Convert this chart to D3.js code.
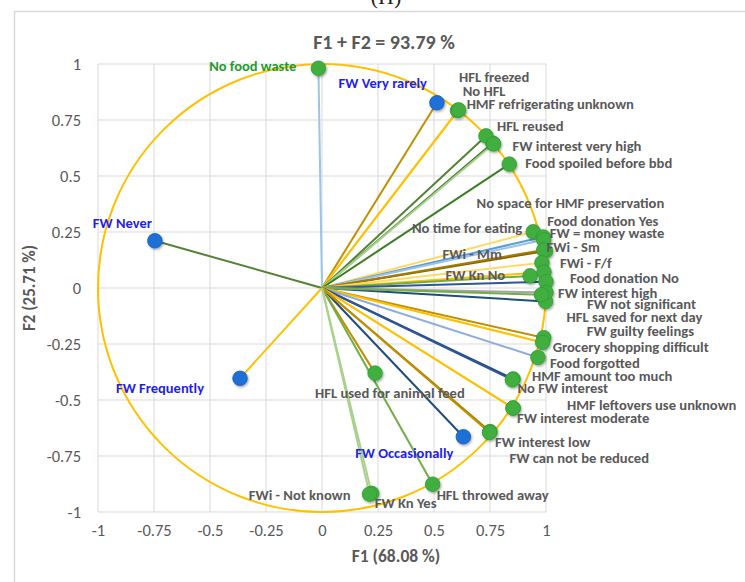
<!DOCTYPE html>
<html>
<head>
<meta charset="utf-8">
<script src="https://cdn.jsdelivr.net/npm/d3@7"></script>
<style>
  html, body { margin: 0; padding: 0; background: #fff; }
  svg { display: block; }
  text { font-family: Carlito, Calibri, Lato, "Open Sans", sans-serif; }
</style>
</head>
<body>
<svg id="chart" width="745" height="582"></svg>
<script>
// Correlation circle (PCA, F1 x F2) – active variables and supplementary modalities

const variableNames = [
  "No food waste", "HFL freezed", "No HFL", "HMF refrigerating unknown", "HFL reused",
  "FW interest very high", "Food spoiled before bbd", "No time for eating",
  "No space for HMF preservation", "Food donation Yes", "FW = money waste", "FWi - Sm",
  "FWi - Mm", "FWi - F/f", "Food donation No", "FW Kn No", "FW interest high",
  "FW not significant", "HFL saved for next day", "FW guilty feelings",
  "Grocery shopping difficult", "Food forgotted", "HMF amount too much", "No FW interest",
  "HMF leftovers use unknown", "FW interest moderate", "FW interest low",
  "FW can not be reduced", "HFL used for animal feed", "HFL throwed away", "FW Kn Yes",
  "FWi - Not known"
];
const variableF1 = [
  -0.016, 0.605, 0.762, 0.610, 0.732,
  0.766, 0.836, 0.943,
  0.998, 0.988, 0.990, 0.998,
  0.990, 0.982, 0.991, 0.929, 1.000,
  1.000, 0.980, 0.990,
  0.985, 0.964, 0.853, 0.850,
  0.853, 0.853, 0.750,
  0.748, 0.237, 0.494, 0.222,
  0.212
];
const variableF2 = [
  0.981, 0.792, 0.647, 0.795, 0.679,
  0.643, 0.553, 0.251,
  -0.060, 0.228, 0.215, 0.165,
  0.170, 0.113, 0.071, 0.054, 0.028,
  -0.020, -0.030, -0.222,
  -0.243, -0.310, -0.406, -0.410,
  -0.536, -0.536, -0.641,
  -0.645, -0.380, -0.876, -0.917,
  -0.920
];

const supplementaryNames = ["FW Very rarely", "FW Never", "FW Frequently", "FW Occasionally"];
const supplementaryF1 = [0.513, -0.746, -0.366, 0.631];
const supplementaryF2 = [0.827, 0.211, -0.403, -0.664];

const axisTicks = [-1, -0.75, -0.5, -0.25, 0, 0.25, 0.5, 0.75, 1];
const chartTitle = "F1 + F2 = 93.79 %";
const xTitle = "F1 (68.08 %)";
const yTitle = "F2 (25.71 %)";
const panelTag = "(H)";

// ---- styling / layout ----
const vectorColors = {
  "No food waste": "#9DC3E6", "HFL freezed": "#FFD966", "No HFL": "#3B7D23",
  "HMF refrigerating unknown": "#FFC000", "HFL reused": "#548235",
  "FW interest very high": "#A9D18E", "Food spoiled before bbd": "#3B7D23",
  "No time for eating": "#FFD966", "No space for HMF preservation": "#1F4E79",
  "Food donation Yes": "#5B9BD5", "FW = money waste": "#9DC3E6", "FWi - Sm": "#806000",
  "FWi - Mm": "#A57C00", "FWi - F/f": "#FFD966", "Food donation No": "#FFC000",
  "FW Kn No": "#70AD47", "FW interest high": "#2F5597", "FW not significant": "#A5A5A5",
  "HFL saved for next day": "#70AD47", "FW guilty feelings": "#BF9000",
  "Grocery shopping difficult": "#FFC000", "Food forgotted": "#8FAADC",
  "HMF amount too much": "#1F4E79", "No FW interest": "#2F5597",
  "HMF leftovers use unknown": "#FFC000", "FW interest moderate": "#FFC000",
  "FW interest low": "#A57C00", "FW can not be reduced": "#BF9000",
  "HFL used for animal feed": "#BF9000", "HFL throwed away": "#70AD47",
  "FW Kn Yes": "#A9D18E", "FWi - Not known": "#A9D18E",
  "FW Very rarely": "#BF9000", "FW Never": "#548235",
  "FW Frequently": "#FFC000", "FW Occasionally": "#1F4E79"
};

// label nudges in pixels from the marker: [dx, dy, anchor]
const labelNudge = {
  "No food waste": [-22, -2, "end"], "HFL freezed": [1.5, -34, "start"],
  "No HFL": [-30, -52, "start"], "HMF refrigerating unknown": [8, -6, "start"],
  "HFL reused": [11, -10, "start"], "FW interest very high": [19, 2, "start"],
  "Food spoiled before bbd": [16, -1, "start"], "No time for eating": [-11, -4, "end"],
  "No space for HMF preservation": [-69, -98, "start"], "Food donation Yes": [4, -16, "start"],
  "FW = money waste": [6, -7, "start"], "FWi - Sm": [1, -4, "start"],
  "FWi - Mm": [-42, 4, "end"], "FWi - F/f": [18, 0, "start"],
  "Food donation No": [26, 6, "start"], "FW Kn No": [-25, -1, "end"],
  "FW interest high": [12, 11, "start"], "FW not significant": [41, 12, "start"],
  "HFL saved for next day": [25, 22, "start"], "FW guilty feelings": [43, -7, "start"],
  "Grocery shopping difficult": [10, 5, "start"], "Food forgotted": [12, 6, "start"],
  "HMF amount too much": [19, -3, "start"], "No FW interest": [5, 8, "start"],
  "HMF leftovers use unknown": [54, -3, "start"], "FW interest moderate": [4, 10, "start"],
  "FW interest low": [5, 10, "start"], "FW can not be reduced": [20, 26, "start"],
  "HFL used for animal feed": [-60, 20, "start"], "HFL throwed away": [4, 11, "start"],
  "FW Kn Yes": [3, 10, "start"], "FWi - Not known": [-19, 1, "end"],
  "FW Very rarely": [-10, -20, "end"], "FW Never": [-3, -18, "end"],
  "FW Frequently": [-36, 10, "end"], "FW Occasionally": [-10, 16, "end"]
};

const svg = d3.select("#chart");

const x = d3.scaleLinear().domain([-1, 1]).range([98, 546]);
const y = d3.scaleLinear().domain([-1, 1]).range([512, 64]);

const defs = svg.append("defs");
const shadow = defs.append("filter").attr("id", "mshadow")
  .attr("x", "-50%").attr("y", "-50%").attr("width", "200%").attr("height", "200%");
shadow.append("feDropShadow").attr("dx", 1).attr("dy", 1.5)
  .attr("stdDeviation", 1).attr("flood-color", "#000").attr("flood-opacity", 0.35);

// chart frame
svg.append("path")
  .attr("d", "M14.5,582 L14.5,11.5 L745,11.5")
  .attr("fill", "none").attr("stroke", "#D9D9D9").attr("stroke-width", 1.5);

svg.append("text").text(panelTag)
  .attr("x", 386).attr("y", 4).attr("text-anchor", "middle")
  .style("font-family", "'Liberation Serif', 'DejaVu Serif', serif")
  .attr("font-size", 22).attr("fill", "#222");

// grid
const grid = svg.append("g");
grid.selectAll("line.v").data(axisTicks).join("line")
  .attr("x1", d => x(d)).attr("x2", d => x(d))
  .attr("y1", y(1)).attr("y2", y(-1))
  .attr("stroke", "#D9D9D9").attr("stroke-width", 1);
grid.selectAll("line.h").data(axisTicks).join("line")
  .attr("y1", d => y(d)).attr("y2", d => y(d))
  .attr("x1", x(-1)).attr("x2", x(1))
  .attr("stroke", "#D9D9D9").attr("stroke-width", 1);

// axes (tick labels only), plain hyphen for negatives
const fmt = d => String(d);
const xAxis = svg.append("g").attr("transform", `translate(0,${y(-1) + 8})`)
  .call(d3.axisBottom(x).tickValues(axisTicks).tickFormat(fmt).tickSize(0).tickPadding(4));
const yAxis = svg.append("g").attr("transform", `translate(${x(-1) - 17},0)`)
  .call(d3.axisLeft(y).tickValues(axisTicks).tickFormat(fmt).tickSize(0).tickPadding(0));
[xAxis, yAxis].forEach(a => {
  a.select(".domain").remove();
  a.selectAll("text").attr("fill", "#595959").attr("font-size", 16.5)
    .style("font-family", "Carlito, Calibri, Lato, sans-serif");
});

// unit circle
svg.append("ellipse")
  .attr("cx", x(0)).attr("cy", y(0))
  .attr("rx", x(1) - x(0)).attr("ry", y(0) - y(1))
  .attr("fill", "none").attr("stroke", "#FFC000").attr("stroke-width", 2);

const active = variableNames.map((n, i) => ({ name: n, f1: variableF1[i], f2: variableF2[i], sup: false }));
const supp = supplementaryNames.map((n, i) => ({ name: n, f1: supplementaryF1[i], f2: supplementaryF2[i], sup: true }));
const all = supp.concat(active);

// vectors from origin
svg.append("g").selectAll("line").data(all).join("line")
  .attr("x1", x(0)).attr("y1", y(0))
  .attr("x2", d => x(d.f1)).attr("y2", d => y(d.f2))
  .attr("stroke", d => vectorColors[d.name]).attr("stroke-width", 2);

// markers
svg.append("g").attr("filter", "url(#mshadow)").selectAll("circle").data(all).join("circle")
  .attr("cx", d => x(d.f1)).attr("cy", d => y(d.f2)).attr("r", 7.3)
  .attr("fill", d => d.sup ? "#1F6FD6" : "#3FAF3F")
  .attr("stroke", d => d.sup ? "#1A5DB5" : "#329A32").attr("stroke-width", 0.8);

// labels
svg.append("g").selectAll("text").data(all).join("text")
  .attr("x", d => x(d.f1) + labelNudge[d.name][0])
  .attr("y", d => y(d.f2) + labelNudge[d.name][1])
  .attr("text-anchor", d => labelNudge[d.name][2])
  .attr("dominant-baseline", "central")
  .attr("font-size", d => d.sup || d.name === "No food waste" ? 14.5 : 14.6)
  .attr("font-weight", "bold")
  .attr("fill", d => d.sup ? "#1F1FE6" : (d.name === "No food waste" ? "#1F9A2F" : "#595959"))
  .text(d => d.name);

// titles
svg.append("text").text(chartTitle)
  .attr("x", 384).attr("y", 42).attr("text-anchor", "middle").attr("dominant-baseline", "central")
  .attr("font-size", 20).attr("font-weight", "bold").attr("fill", "#595959");
svg.append("text").text(xTitle)
  .attr("x", 396).attr("y", 556).attr("text-anchor", "middle").attr("dominant-baseline", "central")
  .attr("font-size", 17.5).attr("font-weight", "bold").attr("fill", "#595959");
svg.append("text").text(yTitle)
  .attr("transform", "translate(29,288) rotate(-90)")
  .attr("text-anchor", "middle").attr("dominant-baseline", "central")
  .attr("font-size", 17).attr("font-weight", "bold").attr("fill", "#595959");
</script>
</body>
</html>
